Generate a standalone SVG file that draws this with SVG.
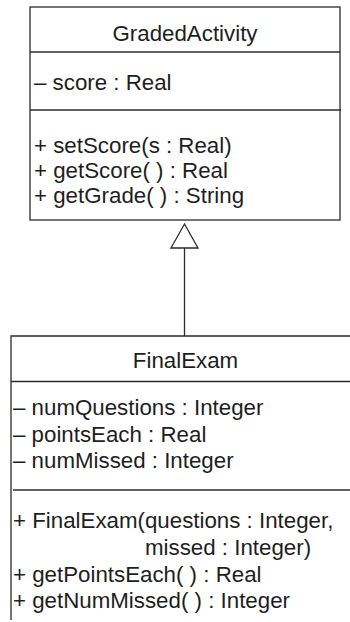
<svg xmlns="http://www.w3.org/2000/svg" width="350" height="622" viewBox="0 0 350 622">
<style>
.ln{stroke:#2b2b2b;stroke-width:1.3;fill:none}
.t{font-family:"Liberation Sans",Arial,sans-serif;font-size:22.3px;fill:#1e1e1e}
.c{text-anchor:middle}
</style>
<rect width="350" height="622" fill="#fff"/>
<g id="GradedActivity">
<rect class="ln" x="30" y="7" width="310" height="213"/>
<line class="ln" x1="30" y1="52" x2="340" y2="52"/>
<line class="ln" x1="30" y1="110" x2="341" y2="110"/>
<text class="t c" x="185" y="41">GradedActivity</text>
<text class="t" x="34" y="90">– score : Real</text>
<text class="t" x="34" y="153">+ setScore(s : Real)</text>
<text class="t" x="34" y="178">+ getScore( ) : Real</text>
<text class="t" x="34" y="203">+ getGrade( ) : String</text>
</g>
<g id="FinalExam">
<polyline class="ln" points="350,336 11,336 11,620"/>
<line class="ln" x1="11" y1="381.5" x2="350" y2="381.5"/>
<line class="ln" x1="13" y1="490" x2="350" y2="490"/>
<text class="t c" x="185.5" y="368">FinalExam</text>
<text class="t" x="13" y="415">– numQuestions : Integer</text>
<text class="t" x="13" y="442">– pointsEach : Real</text>
<text class="t" x="13" y="468">– numMissed : Integer</text>
<text class="t" x="13" y="528">+ FinalExam(questions : Integer,</text>
<text class="t" x="145" y="555">missed : Integer)</text>
<text class="t" x="13" y="582">+ getPointsEach( ) : Real</text>
<text class="t" x="13" y="608">+ getNumMissed( ) : Integer</text>
</g>
<g id="connectors">
<line class="ln" x1="184.5" y1="248" x2="184.5" y2="336"/>
<polygon class="ln" points="184.5,224 171,248 198,248"/>
</g>
</svg>
